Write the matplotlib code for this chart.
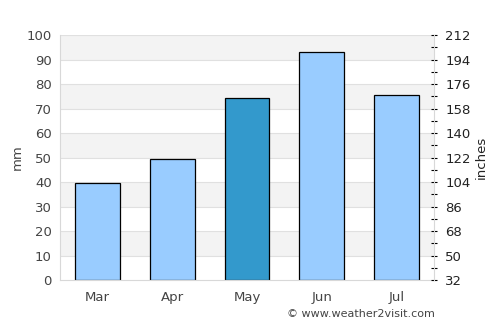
import matplotlib
matplotlib.use("Agg")
import matplotlib.pyplot as plt
from matplotlib.ticker import FixedLocator

months = ["Mar", "Apr", "May", "Jun", "Jul"]
rain_mm = [39.5, 49.5, 74.5, 93.0, 75.5]
highlight = "May"
right_ticks = [32, 50, 68, 86, 104, 122, 140, 158, 176, 194, 212]

light = "#99ccff"
dark = "#3399cc"
colors = [dark if m == highlight else light for m in months]

fig = plt.figure(figsize=(5, 3.25), dpi=100)
ax = fig.add_axes([0.12, 0.138, 0.748, 0.754])

ax.set_xlim(-0.5, len(months) - 0.5)
ax.set_ylim(0, 100)

# alternating bands + grid
for lo in range(10, 100, 20):
    ax.axhspan(lo, lo + 10, color="#f3f3f3", zorder=0, lw=0)
for y in range(10, 101, 10):
    ax.axhline(y, color="#e0e0e0", lw=0.8, zorder=0.5)

ax.bar(range(len(months)), rain_mm, width=0.6, color=colors,
       edgecolor="black", linewidth=0.9, zorder=2)

ax.set_xticks(range(len(months)))
ax.set_xticklabels(months)
ax.set_yticks(range(0, 101, 10))
ax.tick_params(axis="both", length=0, labelsize=9.5, labelcolor="#444444", pad=6)
ax.tick_params(axis="x", pad=8)
for s in ["top", "right"]:
    ax.spines[s].set_visible(False)
for s in ["left", "bottom"]:
    ax.spines[s].set_color("#d8d8d8")
ax.set_ylabel("mm", fontsize=9.5, color="#444444", labelpad=2)

ax2 = ax.twinx()
ax2.set_ylim(32, 212)
ax2.set_yticks(right_ticks)
mids = [(a + b) / 2 for a, b in zip(right_ticks[:-1], right_ticks[1:])]
ax2.yaxis.set_minor_locator(FixedLocator(mids))
ax2.tick_params(axis="y", which="both", direction="inout", length=4,
                width=0.8, color="black", labelsize=9.5, labelcolor="#222222", pad=6)
for s in ["top", "left", "bottom"]:
    ax2.spines[s].set_visible(False)
ax2.spines["right"].set_color("#d8d8d8")
ax2.set_ylabel("inches", fontsize=9.5, color="#222222", labelpad=3)

fig.text(0.87, 0.035, "© www.weather2visit.com", ha="right", va="center",
         fontsize=8, color="#444444")

fig.savefig("out.png", dpi=100)
